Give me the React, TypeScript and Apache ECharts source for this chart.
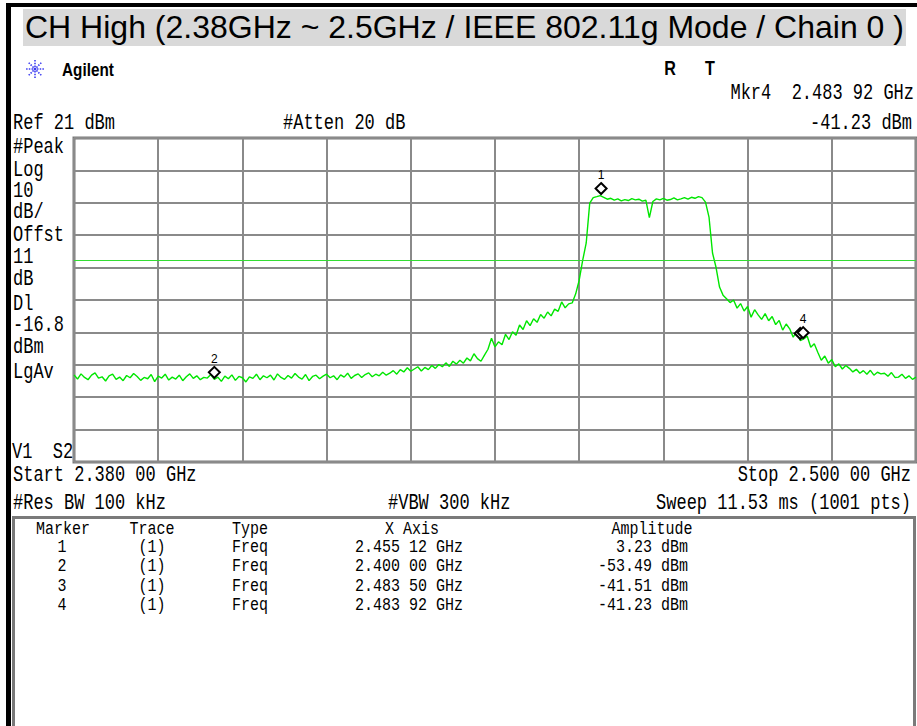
import React, { useEffect, useRef } from 'react';
import * as echarts from 'echarts';

// Sweep definition
const START_GHZ = 2.38;
const STOP_GHZ = 2.5;
const STEP_MHZ = 0.5;
const REF_DBM = 21;
const DIV_DB = 10;
const DISPLAY_LINE_DBM = -16.8;

// Trace (dBm), one value every 0.5 MHz from 2.380 to 2.500 GHz
const traceDbm = [
  -52.1, -53.4, -51.8, -52.9, -53.6, -52.2, -51.5, -53.1, -52.7, -54.0,
  -52.4, -51.9, -53.5, -52.8, -53.9, -52.3, -53.0, -51.7, -52.6, -53.8,
  -52.9, -53.3, -52.0, -54.2, -52.5, -53.1, -51.9, -53.7, -52.8, -53.4,
  -52.2, -53.9, -52.7, -51.8, -53.2, -52.4, -53.6, -52.9, -53.1, -52.0,
  -53.49, -52.8, -54.1, -52.5, -53.3, -52.1, -53.8, -52.6, -53.0, -54.3,
  -52.7, -53.2, -51.9, -53.6, -52.4, -53.0, -52.2, -53.7, -51.8, -52.9,
  -53.5, -52.3, -53.1, -51.7, -52.8, -53.4, -52.0, -53.9, -52.6, -52.2,
  -53.3, -52.5, -51.9, -53.0, -52.4, -53.6, -52.1, -52.8, -51.6, -53.2,
  -52.3, -51.8, -52.9, -52.0, -51.5, -52.7, -51.9, -52.4, -51.3, -52.2,
  -51.6, -50.8, -51.9, -50.5, -51.2, -49.9, -51.0, -50.3, -49.6, -50.9,
  -49.8, -50.5, -49.2, -50.1, -48.9, -49.6, -48.4, -49.5, -47.9, -48.8,
  -47.6, -48.5, -46.9, -47.8, -45.6, -47.1, -47.9, -46.0, -44.2, -40.8,
  -43.5, -41.9, -42.8, -39.6, -41.2, -38.8, -39.9, -36.7, -38.1, -35.4,
  -36.9, -34.8, -35.9, -33.5, -34.6, -32.7, -33.9, -31.8, -32.5, -29.6,
  -31.4, -30.2, -29.9, -27.1, -22.9, -16.7, -11.4, 0.9, 2.6, 2.9,
  3.23, 2.7, 2.1, 2.4, 1.8, 2.2, 1.6, 2.0, 1.7, 2.3,
  1.9, 2.1, 1.5, 1.8, -3.6, 1.4, 2.2, 1.9, 2.4, 1.8,
  2.0, 2.5, 1.9, 2.2, 2.6, 2.1, 2.7, 2.4, 2.9, 2.6,
  1.2, -3.4, -14.5, -18.9, -25.0, -27.5, -28.6, -29.8, -29.0, -31.5,
  -30.1, -32.4, -31.0, -34.3, -32.0, -33.6, -35.0, -33.2, -35.4, -34.1,
  -36.6, -35.3, -38.3, -36.4, -37.9, -40.5, -38.6, -41.51, -41.0, -40.2,
  -43.6, -42.5, -45.1, -47.6, -46.3, -48.5, -47.4, -49.6, -48.7, -50.3,
  -49.2, -50.1, -51.2, -50.4, -51.6, -50.8, -51.9, -50.7, -52.2, -51.3,
  -51.8, -51.6, -52.5, -51.4, -52.9, -52.8, -51.9, -53.2, -52.4, -53.5, -52.8,
];

// Markers
const markerNames = ['1', '2', '3', '4'];
const markerFreqGHz = [2.45512, 2.4, 2.4835, 2.48392];
const markerAmpDbm = [3.23, -53.49, -41.51, -41.23];
const markerFreqText = ['2.455 12 GHz', '2.400 00 GHz', '2.483 50 GHz', '2.483 92 GHz'];
const markerAmpText = ['3.23 dBm', '-53.49 dBm', '-41.51 dBm', '-41.23 dBm'];
const tableHeader = ['Marker', 'Trace', 'Type', 'X Axis', 'Amplitude'];

// Screen annotations
const titleText = 'CH High (2.38GHz ~ 2.5GHz / IEEE 802.11g Mode / Chain 0 )';
const leftLabels = ['#Peak', 'Log', '10', 'dB/', 'Offst', '11', 'dB', 'Dl', '-16.8', 'dBm', 'LgAv'];

const MONO = '"Liberation Mono", "DejaVu Sans Mono", monospace';
const SANS = '"Liberation Sans", Arial, sans-serif';

function txt(text: string, x: number, y: number, o: any = {}) {
  const align = o.align || 'left';
  return {
    type: 'text',
    x,
    y,
    scaleX: o.sx ?? 1,
    scaleY: o.sy ?? 1.25,
    z: 10,
    silent: true,
    style: {
      text,
      font: o.font || `17px ${MONO}`,
      fill: o.fill || '#000',
      align,
      textAlign: align,
      verticalAlign: 'middle',
      textVerticalAlign: 'middle',
    },
  };
}

export default function App() {
  const ref = useRef<HTMLDivElement>(null);

  useEffect(() => {
    if (!ref.current) return;
    const chart = echarts.init(ref.current, null, { renderer: 'svg' });

    const spanMHz = (STOP_GHZ - START_GHZ) * 1000;
    const data = traceDbm.map((v, i) => [i * STEP_MHZ, v - REF_DBM]);

    const markPts = markerNames.map((n, i) => ({
      name: n,
      coord: [(markerFreqGHz[i] - START_GHZ) * 1000, markerAmpDbm[i] - REF_DBM],
      label: {
        show: n !== '3',
        formatter: n,
        position: 'top',
        distance: 1,
        color: '#000',
        fontSize: 12,
        fontFamily: SANS,
      },
    }));

    const graphics: any[] = [];
    // black screen frame
    graphics.push({ type: 'rect', shape: { x: 6, y: 3, width: 911, height: 4 }, style: { fill: '#000' }, silent: true });
    graphics.push({ type: 'rect', shape: { x: 6, y: 3, width: 5, height: 723 }, style: { fill: '#000' }, silent: true });
    // title band
    graphics.push({ type: 'rect', shape: { x: 23, y: 9, width: 883, height: 37 }, style: { fill: '#d9d9d9' }, silent: true });
    graphics.push(txt(titleText, 25, 27, { font: `32px ${SANS}`, sy: 1 }));

    // Agilent starburst logo
    const cx = 35, cy = 69;
    for (let k = 0; k < 8; k++) {
      const a = (k * Math.PI) / 4;
      graphics.push({
        type: 'line',
        shape: { x1: cx + Math.cos(a) * 2, y1: cy + Math.sin(a) * 2, x2: cx + Math.cos(a) * 9, y2: cy + Math.sin(a) * 9 },
        style: { stroke: '#3c3cf0', lineWidth: 1.6, lineDash: [1.5, 1.2] },
        silent: true,
      });
    }
    graphics.push({ type: 'circle', shape: { cx, cy, r: 1.5 }, style: { fill: '#3c3cf0' }, silent: true });
    graphics.push(txt('Agilent', 62, 69, { font: `bold 18px ${SANS}`, sx: 0.85, sy: 1.05 }));
    graphics.push(txt('R', 670, 68, { font: `bold 19px ${SANS}`, sx: 0.85, align: 'center', sy: 1.05 }));
    graphics.push(txt('T', 710, 68, { font: `bold 19px ${SANS}`, sx: 0.85, align: 'center', sy: 1.05 }));

    // header lines
    graphics.push(txt('Mkr4  2.483 92 GHz', 914, 93, { align: 'right' }));
    graphics.push(txt('Ref 21 dBm', 13, 123));
    graphics.push(txt('#Atten 20 dB', 283, 123));
    graphics.push(txt(markerAmpText[3], 912, 123, { align: 'right' }));

    // left annotation column
    const leftY = [147, 170, 191, 212, 235, 257, 279, 304, 325, 347, 372];
    leftLabels.forEach((l, i) => graphics.push(txt(l, 13, leftY[i])));
    graphics.push(txt('V1  S2', 12, 452));

    // footer lines
    graphics.push(txt('Start 2.380 00 GHz', 13, 475));
    graphics.push(txt('Stop 2.500 00 GHz', 911, 475, { align: 'right' }));
    graphics.push(txt('#Res BW 100 kHz', 13, 503));
    graphics.push(txt('#VBW 300 kHz', 388, 503));
    graphics.push(txt('Sweep 11.53 ms (1001 pts)', 911, 503, { align: 'right' }));

    // marker table
    graphics.push({ type: 'rect', shape: { x: 13.5, y: 517.5, width: 901, height: 215 }, style: { fill: 'none', stroke: '#7a7a7a', lineWidth: 3 }, silent: true });
    const TF = `15px ${MONO}`;
    const hy = 529;
    const tsy = 1.2;
    graphics.push(txt(tableHeader[0], 63, hy, { font: TF, align: 'center', sy: tsy }));
    graphics.push(txt(tableHeader[1], 152, hy, { font: TF, align: 'center', sy: tsy }));
    graphics.push(txt(tableHeader[2], 232, hy, { font: TF, sy: tsy }));
    graphics.push(txt(tableHeader[3], 412, hy, { font: TF, align: 'center', sy: tsy }));
    graphics.push(txt(tableHeader[4], 652, hy, { font: TF, align: 'center', sy: tsy }));
    markerNames.forEach((n, i) => {
      const y = 547 + i * 19.5;
      graphics.push(txt(n, 62, y, { font: TF, align: 'center', sy: tsy }));
      graphics.push(txt('(1)', 152, y, { font: TF, align: 'center', sy: tsy }));
      graphics.push(txt('Freq', 232, y, { font: TF, sy: tsy }));
      graphics.push(txt(markerFreqText[i], 355, y, { font: TF, sy: tsy }));
      graphics.push(txt(markerAmpText[i], 688, y, { font: TF, align: 'right', sy: tsy }));
    });

    chart.setOption({
      animation: false,
      backgroundColor: '#ffffff',
      grid: {
        left: 74,
        top: 138,
        width: 842,
        height: 324,
        show: true,
        borderColor: '#7a7a7a',
        borderWidth: 3,
        backgroundColor: '#ffffff',
      },
      xAxis: {
        type: 'value',
        min: 0,
        max: spanMHz,
        interval: spanMHz / 10,
        axisLabel: { show: false },
        axisTick: { show: false },
        axisLine: { show: false },
        splitLine: { show: true, lineStyle: { color: '#8a8a8a', width: 2 } },
      },
      yAxis: {
        type: 'value',
        min: -10 * DIV_DB,
        max: 0,
        interval: DIV_DB,
        axisLabel: { show: false },
        axisTick: { show: false },
        axisLine: { show: false },
        splitLine: { show: true, lineStyle: { color: '#8a8a8a', width: 2 } },
      },
      graphic: graphics,
      series: [
        {
          type: 'line',
          data,
          showSymbol: false,
          symbol: 'none',
          lineStyle: { color: '#00e600', width: 1.4 },
          z: 3,
          markLine: {
            silent: true,
            symbol: 'none',
            label: { show: false },
            lineStyle: { color: '#33dd33', width: 1, type: 'solid' },
            data: [{ yAxis: DISPLAY_LINE_DBM - REF_DBM }],
          },
          markPoint: {
            symbol: 'diamond',
            symbolSize: [11, 11],
            symbolOffset: [0, -7],
            itemStyle: { color: '#ffffff', borderColor: '#000', borderWidth: 2 },
            data: markPts,
          },
        },
      ],
    });

    return () => chart.dispose();
  }, []);

  return (
    <div
      ref={ref}
      style={{ position: 'fixed', left: 0, top: 0, width: 917, height: 726, background: '#fff' }}
    />
  );
}
